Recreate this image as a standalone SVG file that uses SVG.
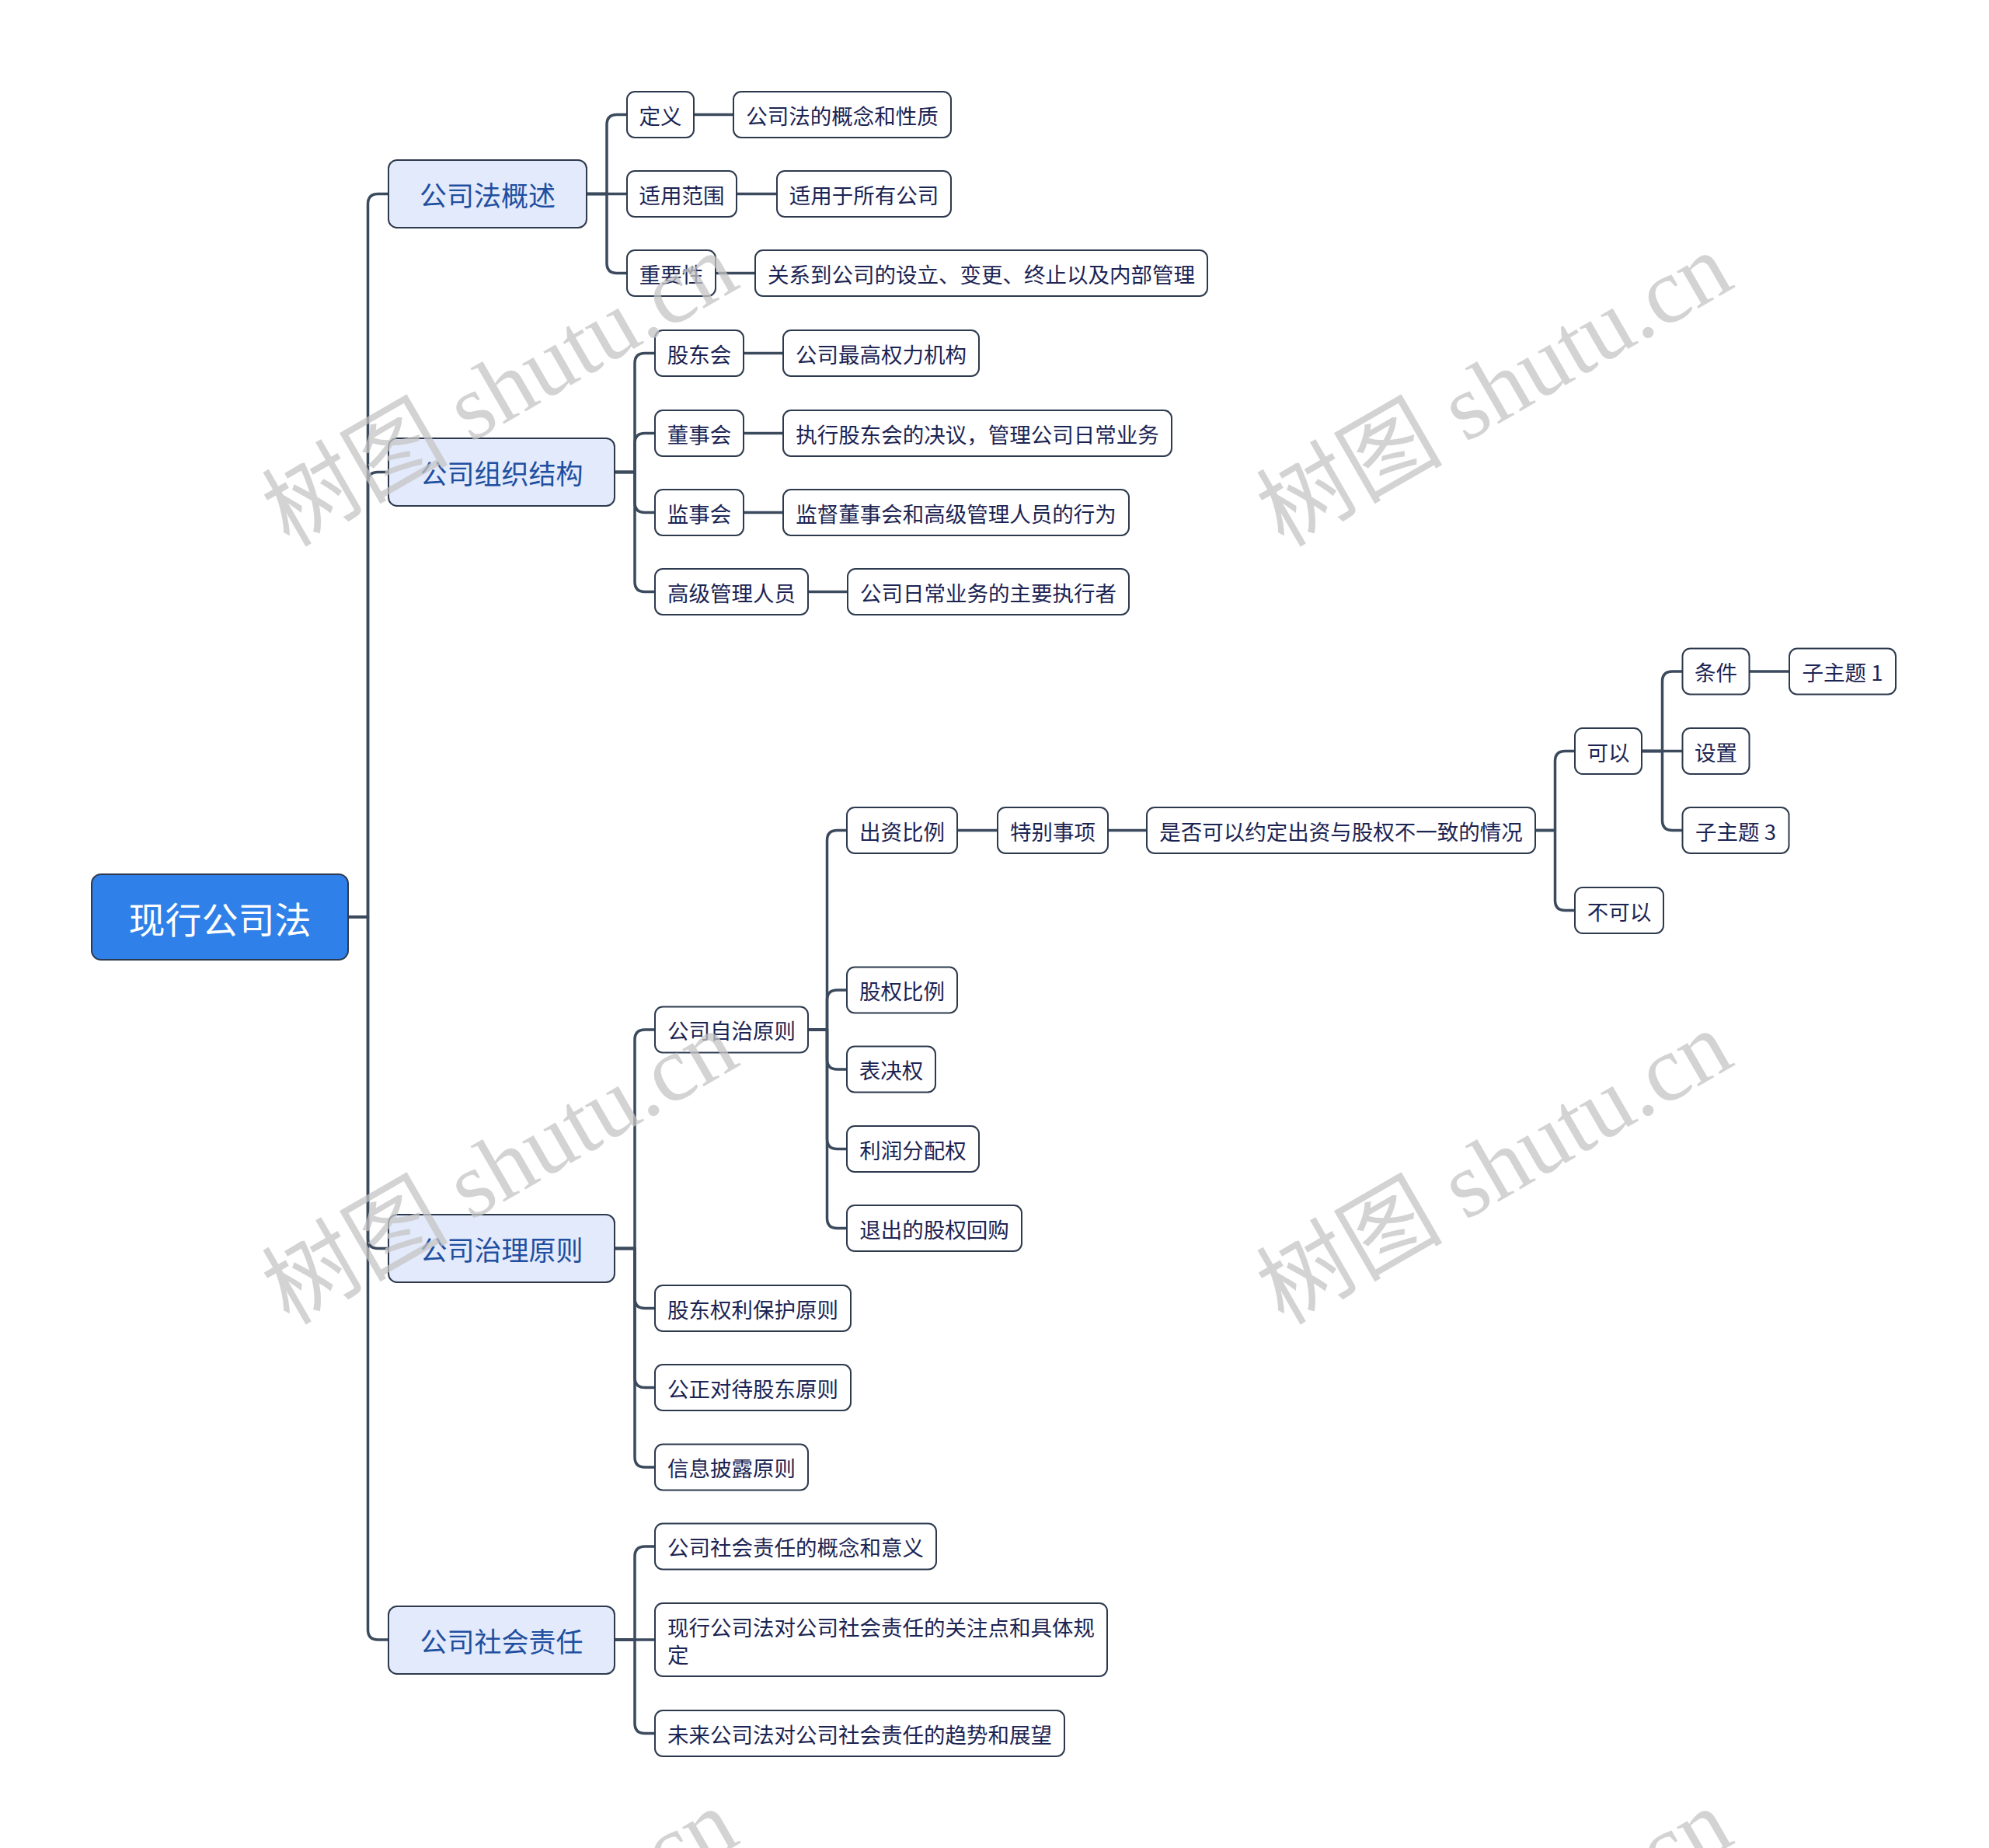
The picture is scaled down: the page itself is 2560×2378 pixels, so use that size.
<svg xmlns="http://www.w3.org/2000/svg" width="2560" height="2378" viewBox="0 0 2560 2378">
<style>
.conn{fill:none;stroke:#3b4a5d;stroke-width:3.5;stroke-linecap:round;stroke-linejoin:round}
.box{fill:#ffffff;stroke:#2d3a4e;stroke-width:2}
.box1{fill:#e3eafb;stroke:#2d3a4e;stroke-width:2}
.box0{fill:#2f80e8;stroke:#2d3a4e;stroke-width:2}
.t{font-family:"Noto Sans CJK SC","Noto Sans",sans-serif;font-size:27.5px;fill:#1c2453;text-anchor:middle;dominant-baseline:central}
.t1{font-size:35px;fill:#1f4f9f}
.t0{font-size:47px;fill:#ffffff}
.tl{text-anchor:start}
.wm{font-family:"Liberation Serif","Noto Sans CJK SC",serif;font-size:120px;fill:#c4c4c4;fill-opacity:0.75}
</style>
<rect width="2560" height="2378" fill="#ffffff"/>
<g id="connectors">
<path class="conn" d="M448 1180 H473.5 V262.5 Q473.5 249.5 486.5 249.5 H500"/>
<path class="conn" d="M448 1180 H473.5 V620.5 Q473.5 607.5 486.5 607.5 H500"/>
<path class="conn" d="M448 1180 H473.5 V1593.5 Q473.5 1606.5 486.5 1606.5 H500"/>
<path class="conn" d="M448 1180 H473.5 V2097 Q473.5 2110 486.5 2110 H500"/>
<path class="conn" d="M755 249.5 H781 V160.5 Q781 147.5 794 147.5 H807"/>
<path class="conn" d="M755 249.5 H807"/>
<path class="conn" d="M755 249.5 H781 V338.5 Q781 351.5 794 351.5 H807"/>
<path class="conn" d="M893 147.5 H944"/>
<path class="conn" d="M948 249.5 H1000"/>
<path class="conn" d="M921 351.5 H972"/>
<path class="conn" d="M791 607.5 H817 V467.5 Q817 454.5 830 454.5 H843"/>
<path class="conn" d="M791 607.5 H817 V570.5 Q817 557.5 830 557.5 H843"/>
<path class="conn" d="M791 607.5 H817 V646.5 Q817 659.5 830 659.5 H843"/>
<path class="conn" d="M791 607.5 H817 V748.5 Q817 761.5 830 761.5 H843"/>
<path class="conn" d="M957 454.5 H1008"/>
<path class="conn" d="M957 557.5 H1008"/>
<path class="conn" d="M957 659.5 H1008"/>
<path class="conn" d="M1040 761.5 H1091"/>
<path class="conn" d="M791 1606.5 H817 V1338 Q817 1325 830 1325 H843"/>
<path class="conn" d="M791 1606.5 H817 V1670.5 Q817 1683.5 830 1683.5 H843"/>
<path class="conn" d="M791 1606.5 H817 V1772.5 Q817 1785.5 830 1785.5 H843"/>
<path class="conn" d="M791 1606.5 H817 V1875 Q817 1888 830 1888 H843"/>
<path class="conn" d="M1040 1325 H1064.5 V1081.5 Q1064.5 1068.5 1077.5 1068.5 H1090"/>
<path class="conn" d="M1040 1325 H1064.5 V1287 Q1064.5 1274 1077.5 1274 H1090"/>
<path class="conn" d="M1040 1325 H1064.5 V1363 Q1064.5 1376 1077.5 1376 H1090"/>
<path class="conn" d="M1040 1325 H1064.5 V1465.5 Q1064.5 1478.5 1077.5 1478.5 H1090"/>
<path class="conn" d="M1040 1325 H1064.5 V1567.5 Q1064.5 1580.5 1077.5 1580.5 H1090"/>
<path class="conn" d="M1232 1068.5 H1284"/>
<path class="conn" d="M1426 1068.5 H1476"/>
<path class="conn" d="M1976 1068.5 H2001.5 V979.5 Q2001.5 966.5 2014.5 966.5 H2027"/>
<path class="conn" d="M1976 1068.5 H2001.5 V1158.5 Q2001.5 1171.5 2014.5 1171.5 H2027"/>
<path class="conn" d="M2113 966.5 H2139.5 V877 Q2139.5 864 2152.5 864 H2165.5"/>
<path class="conn" d="M2113 966.5 H2165.5"/>
<path class="conn" d="M2113 966.5 H2139.5 V1055.5 Q2139.5 1068.5 2152.5 1068.5 H2165.5"/>
<path class="conn" d="M2251.5 864 H2303"/>
<path class="conn" d="M791 2110 H817 V2003 Q817 1990 830 1990 H843"/>
<path class="conn" d="M791 2110 H843"/>
<path class="conn" d="M791 2110 H817 V2217.5 Q817 2230.5 830 2230.5 H843"/>
</g>
<g id="root"><rect class="box0" x="118" y="1125" width="330" height="110" rx="12"/><text class="t t0" x="283" y="1180">现行公司法</text></g>
<g id="n-gaishu"><rect class="box1" x="500" y="206" width="255" height="87" rx="11"/><text class="t t1" x="627.5" y="249.5">公司法概述</text></g>
<g id="n-zuzhi"><rect class="box1" x="500" y="564" width="291" height="87" rx="11"/><text class="t t1" x="645.5" y="607.5">公司组织结构</text></g>
<g id="n-zhili"><rect class="box1" x="500" y="1563" width="291" height="87" rx="11"/><text class="t t1" x="645.5" y="1606.5">公司治理原则</text></g>
<g id="n-zeren"><rect class="box1" x="500" y="2067" width="291" height="87" rx="11"/><text class="t t1" x="645.5" y="2110.5">公司社会责任</text></g>
<g id="n-dingyi"><rect class="box" x="807" y="118" width="86" height="59" rx="10"/><text class="t" x="850" y="147.5">定义</text></g>
<g id="n-dingyi-1"><rect class="box" x="944" y="118" width="280" height="59" rx="10"/><text class="t" x="1084" y="147.5">公司法的概念和性质</text></g>
<g id="n-fanwei"><rect class="box" x="807" y="220" width="141" height="59" rx="10"/><text class="t" x="877.5" y="249.5">适用范围</text></g>
<g id="n-fanwei-1"><rect class="box" x="1000" y="220" width="224" height="59" rx="10"/><text class="t" x="1112" y="249.5">适用于所有公司</text></g>
<g id="n-zhongyao"><rect class="box" x="807" y="322" width="114" height="59" rx="10"/><text class="t" x="864" y="351.5">重要性</text></g>
<g id="n-zhongyao-1"><rect class="box" x="972" y="322" width="582" height="59" rx="10"/><text class="t" x="1263" y="351.5">关系到公司的设立、变更、终止以及内部管理</text></g>
<g id="n-gudonghui"><rect class="box" x="843" y="425" width="114" height="59" rx="10"/><text class="t" x="900" y="454.5">股东会</text></g>
<g id="n-gudonghui-1"><rect class="box" x="1008" y="425" width="252" height="59" rx="10"/><text class="t" x="1134" y="454.5">公司最高权力机构</text></g>
<g id="n-dongshihui"><rect class="box" x="843" y="528" width="114" height="59" rx="10"/><text class="t" x="900" y="557.5">董事会</text></g>
<g id="n-dongshihui-1"><rect class="box" x="1008" y="528" width="500" height="59" rx="10"/><text class="t" x="1258" y="557.5">执行股东会的决议，管理公司日常业务</text></g>
<g id="n-jianshihui"><rect class="box" x="843" y="630" width="114" height="59" rx="10"/><text class="t" x="900" y="659.5">监事会</text></g>
<g id="n-jianshihui-1"><rect class="box" x="1008" y="630" width="445" height="59" rx="10"/><text class="t" x="1230.5" y="659.5">监督董事会和高级管理人员的行为</text></g>
<g id="n-gaoguan"><rect class="box" x="843" y="732" width="197" height="59" rx="10"/><text class="t" x="941.5" y="761.5">高级管理人员</text></g>
<g id="n-gaoguan-1"><rect class="box" x="1091" y="732" width="362" height="59" rx="10"/><text class="t" x="1272" y="761.5">公司日常业务的主要执行者</text></g>
<g id="n-zizhi"><rect class="box" x="843" y="1295.5" width="197" height="59" rx="10"/><text class="t" x="941.5" y="1325">公司自治原则</text></g>
<g id="n-chuzi"><rect class="box" x="1090" y="1039" width="142" height="59" rx="10"/><text class="t" x="1161" y="1068.5">出资比例</text></g>
<g id="n-tebie"><rect class="box" x="1284" y="1039" width="142" height="59" rx="10"/><text class="t" x="1355" y="1068.5">特别事项</text></g>
<g id="n-shifou"><rect class="box" x="1476" y="1039" width="500" height="59" rx="10"/><text class="t" x="1726" y="1068.5">是否可以约定出资与股权不一致的情况</text></g>
<g id="n-keyi"><rect class="box" x="2027" y="937" width="86" height="59" rx="10"/><text class="t" x="2070" y="966.5">可以</text></g>
<g id="n-bukeyi"><rect class="box" x="2027" y="1142" width="114" height="59" rx="10"/><text class="t" x="2084" y="1171.5">不可以</text></g>
<g id="n-tiaojian"><rect class="box" x="2165.5" y="834.5" width="86" height="59" rx="10"/><text class="t" x="2208.5" y="864">条件</text></g>
<g id="n-zizhuti1"><rect class="box" x="2303" y="834.5" width="137" height="59" rx="10"/><text class="t" x="2371.5" y="864">子主题 1</text></g>
<g id="n-shezhi"><rect class="box" x="2165.5" y="937" width="86" height="59" rx="10"/><text class="t" x="2208.5" y="966.5">设置</text></g>
<g id="n-zizhuti3"><rect class="box" x="2165.5" y="1039" width="137" height="59" rx="10"/><text class="t" x="2234" y="1068.5">子主题 3</text></g>
<g id="n-guquan"><rect class="box" x="1090" y="1244.5" width="142" height="59" rx="10"/><text class="t" x="1161" y="1274">股权比例</text></g>
<g id="n-biaojue"><rect class="box" x="1090" y="1346.5" width="114" height="59" rx="10"/><text class="t" x="1147" y="1376">表决权</text></g>
<g id="n-lirun"><rect class="box" x="1090" y="1449" width="170" height="59" rx="10"/><text class="t" x="1175" y="1478.5">利润分配权</text></g>
<g id="n-tuichu"><rect class="box" x="1090" y="1551" width="225" height="59" rx="10"/><text class="t" x="1202.5" y="1580.5">退出的股权回购</text></g>
<g id="n-baohu"><rect class="box" x="843" y="1654" width="252" height="59" rx="10"/><text class="t" x="969" y="1683.5">股东权利保护原则</text></g>
<g id="n-gongzheng"><rect class="box" x="843" y="1756" width="252" height="59" rx="10"/><text class="t" x="969" y="1785.5">公正对待股东原则</text></g>
<g id="n-xinxi"><rect class="box" x="843" y="1858.5" width="197" height="59" rx="10"/><text class="t" x="941.5" y="1888">信息披露原则</text></g>
<g id="n-gainian"><rect class="box" x="843" y="1960.5" width="362" height="59" rx="10"/><text class="t" x="1024" y="1990">公司社会责任的概念和意义</text></g>
<g id="n-guanzhu"><rect class="box" x="843" y="2063" width="582" height="94" rx="10"/><text class="t tl" x="859" y="2093">现行公司法对公司社会责任的关注点和具体规</text><text class="t tl" x="859" y="2128">定</text></g>
<g id="n-weilai"><rect class="box" x="843" y="2201" width="527" height="59" rx="10"/><text class="t" x="1106.5" y="2230.5">未来公司法对公司社会责任的趋势和展望</text></g>
<g id="watermarks">
<text class="wm" transform="translate(372 705) rotate(-30)">树图 shutu.cn</text>
<text class="wm" transform="translate(1652 705) rotate(-30)">树图 shutu.cn</text>
<text class="wm" transform="translate(372 1706) rotate(-30)">树图 shutu.cn</text>
<text class="wm" transform="translate(1652 1706) rotate(-30)">树图 shutu.cn</text>
<text class="wm" transform="translate(372 2707) rotate(-30)">树图 shutu.cn</text>
<text class="wm" transform="translate(1652 2707) rotate(-30)">树图 shutu.cn</text>
</g>
</svg>
